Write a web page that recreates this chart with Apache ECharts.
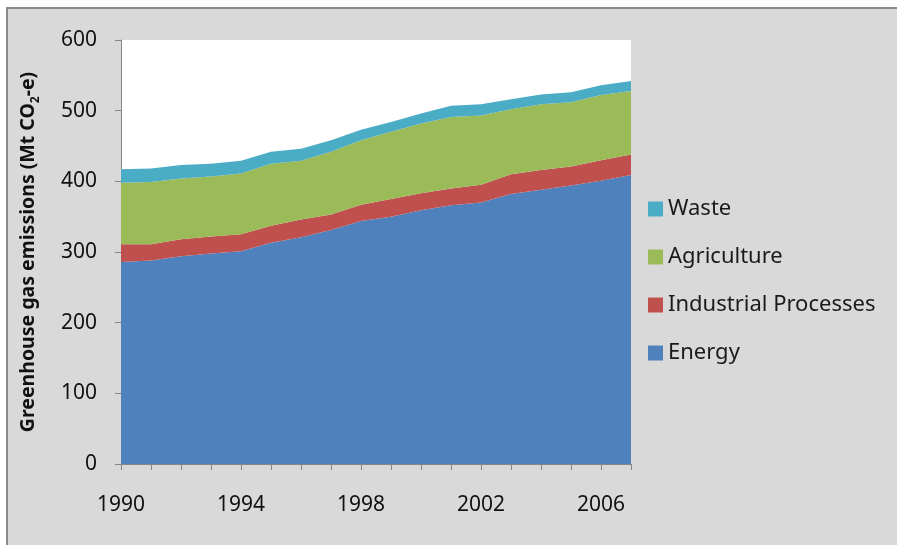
<!DOCTYPE html>
<html>
<head>
<meta charset="utf-8">
<title>Greenhouse gas emissions</title>
<script src="https://cdn.jsdelivr.net/npm/echarts@6/dist/echarts.min.js"></script>
<style>
  html, body { margin: 0; padding: 0; background: #fff; }
  #chart { width: 897px; height: 545px; }
</style>
</head>
<body>
<div id="chart"></div>
<script>
// years on the x axis
const years = ['1990', '1991', '1992', '1993', '1994', '1995', '1996', '1997', '1998',
  '1999', '2000', '2001', '2002', '2003', '2004', '2005', '2006', '2007']

// Mt CO2-e per sector (stacked)
const energy = [286, 288, 294, 298, 301, 313, 321, 331, 344, 350, 359, 366, 370, 382, 388, 394, 401, 409]
const industrial = [25, 23, 24, 24, 24, 24, 25, 22, 23, 25, 24, 24, 25, 28, 28, 27, 29, 29]
const agriculture = [87, 88, 86, 85, 86, 88, 83, 89, 91, 95, 99, 101, 98, 92, 93, 91, 92, 90]
const waste = [19, 19, 19, 18, 18, 17, 17, 16, 15, 14, 14, 16, 16, 14, 14, 14, 14, 14]

const chart = echarts.init(document.getElementById('chart'))

// one stacked area series
function area(name, data, color) {
  return {
    name: name,
    type: 'line',
    stack: 'total',
    data: data,
    color: color,
    showSymbol: false,
    symbol: 'none',
    lineStyle: { width: 0 },
    areaStyle: { color: color, opacity: 1 },
    emphasis: { disabled: true }
  }
}

const font = 'Noto Sans'

chart.setOption({
  backgroundColor: '#fff',
  animation: false,
  graphic: [
    {
      type: 'rect',
      z: -10,
      silent: true,
      shape: { x: 7, y: 8, width: 900, height: 560 },
      style: { fill: '#d9d9d9', stroke: '#8a8a8a', lineWidth: 2 }
    }
  ],
  grid: {
    left: 121,
    top: 40,
    right: 266,
    bottom: 81,
    show: true,
    backgroundColor: '#fff',
    borderWidth: 0
  },
  legend: {
    orient: 'vertical',
    left: 643,
    top: 193,
    itemWidth: 15,
    itemHeight: 15,
    itemGap: 26,
    icon: 'rect',
    data: ['Waste', 'Agriculture', 'Industrial Processes', 'Energy'],
    textStyle: { fontFamily: font, fontSize: 22, color: '#1a1a1a' }
  },
  xAxis: {
    type: 'category',
    boundaryGap: false,
    data: years,
    axisLine: { lineStyle: { color: '#868686', width: 1 } },
    axisTick: { show: true, interval: 0, length: 6, lineStyle: { color: '#868686' } },
    axisLabel: { interval: 3, margin: 31, fontFamily: font, fontSize: 21, color: '#111' },
    splitLine: { show: false }
  },
  yAxis: {
    type: 'value',
    min: 0,
    max: 600,
    interval: 100,
    name: 'Greenhouse gas emissions (Mt CO{sub|2}-e)',
    nameLocation: 'middle',
    nameRotate: 90,
    nameGap: 79,
    nameTextStyle: {
      fontFamily: font,
      fontSize: 19.5,
      fontWeight: 'bold',
      color: '#111',
      rich: {
        sub: { fontFamily: font, fontSize: 12, fontWeight: 'bold', color: '#111', verticalAlign: 'bottom', lineHeight: 28 }
      }
    },
    axisLine: { show: true, lineStyle: { color: '#868686', width: 1 } },
    axisTick: { show: true, length: 6, lineStyle: { color: '#868686' } },
    axisLabel: { margin: 24, fontFamily: font, fontSize: 21, color: '#111' },
    splitLine: { show: false }
  },
  series: [
    area('Energy', energy, '#4f81bd'),
    area('Industrial Processes', industrial, '#c0504d'),
    area('Agriculture', agriculture, '#9bbb59'),
    area('Waste', waste, '#4bacc6')
  ]
})
</script>
</body>
</html>
